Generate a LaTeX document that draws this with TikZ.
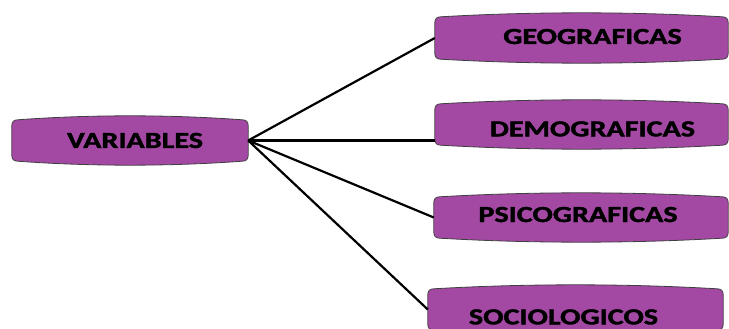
\documentclass[tikz,border=0pt]{standalone}
\usepackage{fontspec}
\setmainfont{Carlito}[BoldFeatures={FakeBold=1.5}]
\usetikzlibrary{
  calc,        % puntos de control del contorno
  backgrounds  % cajas detrás del texto
}
\definecolor{morado}{RGB}{163,73,164}
\tikzset{
  caja/.style={
    minimum width=293pt,
    minimum height=42pt,
    inner sep=0pt,
    font=\fontsize{23}{23}\selectfont\bfseries
  },
  baja/.style={
    text height=#1,
    text depth=0pt
  },
  fondo caja/.style={
    fill=morado,
    draw=black!75,
    line width=0.8pt
  },
  rama/.style={
    line width=2.2pt,
    color=black
  }
}
% texto ensanchado como en el original
\newcommand{\ancho}[1]{\scalebox{1.31}[1]{#1}}
% contorno con borde superior e inferior abombados
\newcommand{\contorno}[1]{%
  \draw[fondo caja]
    ($(#1.north west)+(0,6)$)
    .. controls ($(#1.north west)+(0,2)$) and ($(#1.north west)+(2,0)$) .. ($(#1.north west)+(6,0)$)
    .. controls ($(#1.north west)!0.33!(#1.north east)+(0,-5.3)$) and ($(#1.north west)!0.67!(#1.north east)+(0,-5.3)$) .. ($(#1.north east)+(-6,0)$)
    .. controls ($(#1.north east)+(-2,0)$) and ($(#1.north east)+(0,2)$) .. ($(#1.north east)+(0,6)$)
    -- ($(#1.south east)+(0,-6)$)
    .. controls ($(#1.south east)+(0,-2)$) and ($(#1.south east)+(-2,0)$) .. ($(#1.south east)+(-6,0)$)
    .. controls ($(#1.south east)!0.33!(#1.south west)+(0,5.3)$) and ($(#1.south east)!0.67!(#1.south west)+(0,5.3)$) .. ($(#1.south west)+(6,0)$)
    .. controls ($(#1.south west)+(2,0)$) and ($(#1.south west)+(0,-2)$) .. ($(#1.south west)+(0,-6)$)
    -- cycle;}

\begin{document}
\begin{tikzpicture}[x=1pt, y=-1pt]
    \useasboundingbox (0,0) rectangle (729,329);

    % caja de la izquierda
    \node[caja, minimum width=236pt, minimum height=41pt] (var) at (130,140.5)
      {\hspace*{10pt}\ancho{VARIABLES}};

    % cajas de la derecha (de arriba abajo)
    \node[caja, baja=12pt] (geo) at (581.5,38)
      {\hspace*{22pt}\ancho{GEOGRAFICAS}};
    \node[caja, minimum height=41pt, baja=23.8pt] (demo) at (581.5,124.5)
      {\hspace*{22pt}\ancho{DEMOGRAFICAS}};
    \node[caja, minimum width=294pt, minimum height=41pt, baja=9pt] (psico) at (581,217.5)
      {\ancho{PSICOGRAFICAS}\hspace*{6pt}};
    \node[caja, minimum width=295pt, minimum height=41pt, baja=29.8pt] (socio) at (575.5,309.5)
      {\ancho{SOCIOLOGICOS}\hspace*{24pt}};

    % fondos morados
    \begin{scope}[on background layer]
      \foreach \n in {var,geo,demo,psico,socio}
        \contorno{\n};
    \end{scope}

    % ramas
    \draw[rama] (var.east) -- (geo.west);
    \draw[rama] (var.east) -- (var.east -| demo.west);
    \draw[rama] (var.east) -- (psico.west);
    \draw[rama] (var.east) -- (socio.west);

  \end{tikzpicture}
\end{document}
